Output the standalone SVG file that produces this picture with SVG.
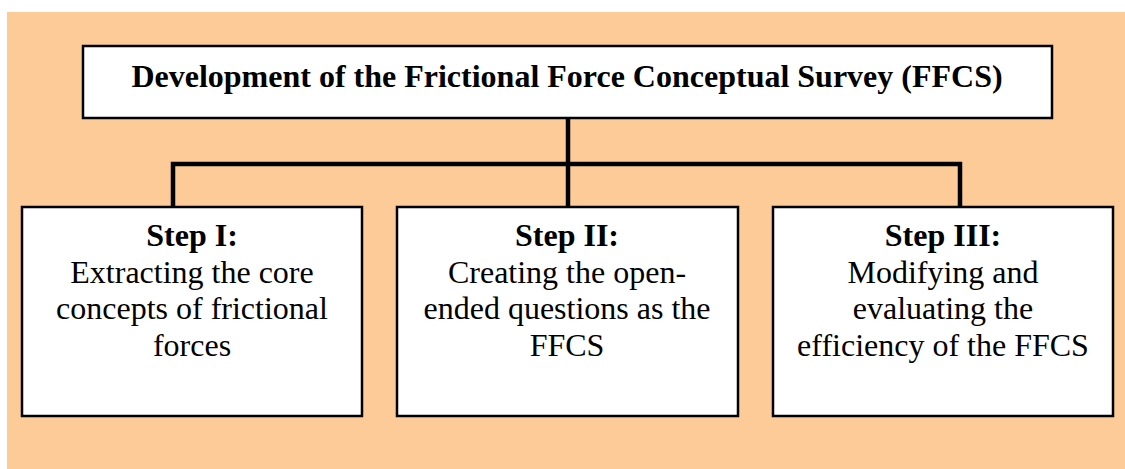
<svg xmlns="http://www.w3.org/2000/svg" width="1125" height="469" viewBox="0 0 1125 469">
<style>
.box{fill:#ffffff;stroke:#000000;stroke-width:2.5}
.t{font-family:"Liberation Serif","Times New Roman",serif;font-size:32px;fill:#000;text-anchor:middle}
.b{font-weight:bold}
.conn{fill:none;stroke:#000;stroke-width:4.5;stroke-linejoin:miter}
</style>
<rect x="0" y="0" width="1125" height="469" fill="#ffffff"/>
<rect x="7" y="12" width="1118" height="457" fill="#fdcb98"/>
<g id="connectors">
<line class="conn" x1="568" y1="118" x2="568" y2="207"/>
<path class="conn" d="M173,207 V164 H960 V207"/>
</g>
<g id="title">
<rect class="box" x="83" y="46" width="969" height="72"/>
<text class="t b" x="567" y="87">Development of the Frictional Force Conceptual Survey (FFCS)</text>
</g>
<g id="step1">
<rect class="box" x="22" y="207" width="340" height="209"/>
<text class="t b" x="192" y="246">Step I:</text>
<text class="t" x="192" y="283">Extracting the core</text>
<text class="t" x="192" y="319">concepts of frictional</text>
<text class="t" x="192" y="356">forces</text>
</g>
<g id="step2">
<rect class="box" x="397" y="207" width="341" height="209"/>
<text class="t b" x="567" y="246">Step II:</text>
<text class="t" x="567" y="283">Creating the open-</text>
<text class="t" x="567" y="319">ended questions as the</text>
<text class="t" x="567" y="356">FFCS</text>
</g>
<g id="step3">
<rect class="box" x="773" y="207" width="340" height="209"/>
<text class="t b" x="943" y="246">Step III:</text>
<text class="t" x="943" y="283">Modifying and</text>
<text class="t" x="943" y="319">evaluating the</text>
<text class="t" x="943" y="356">efficiency of the FFCS</text>
</g>
</svg>
